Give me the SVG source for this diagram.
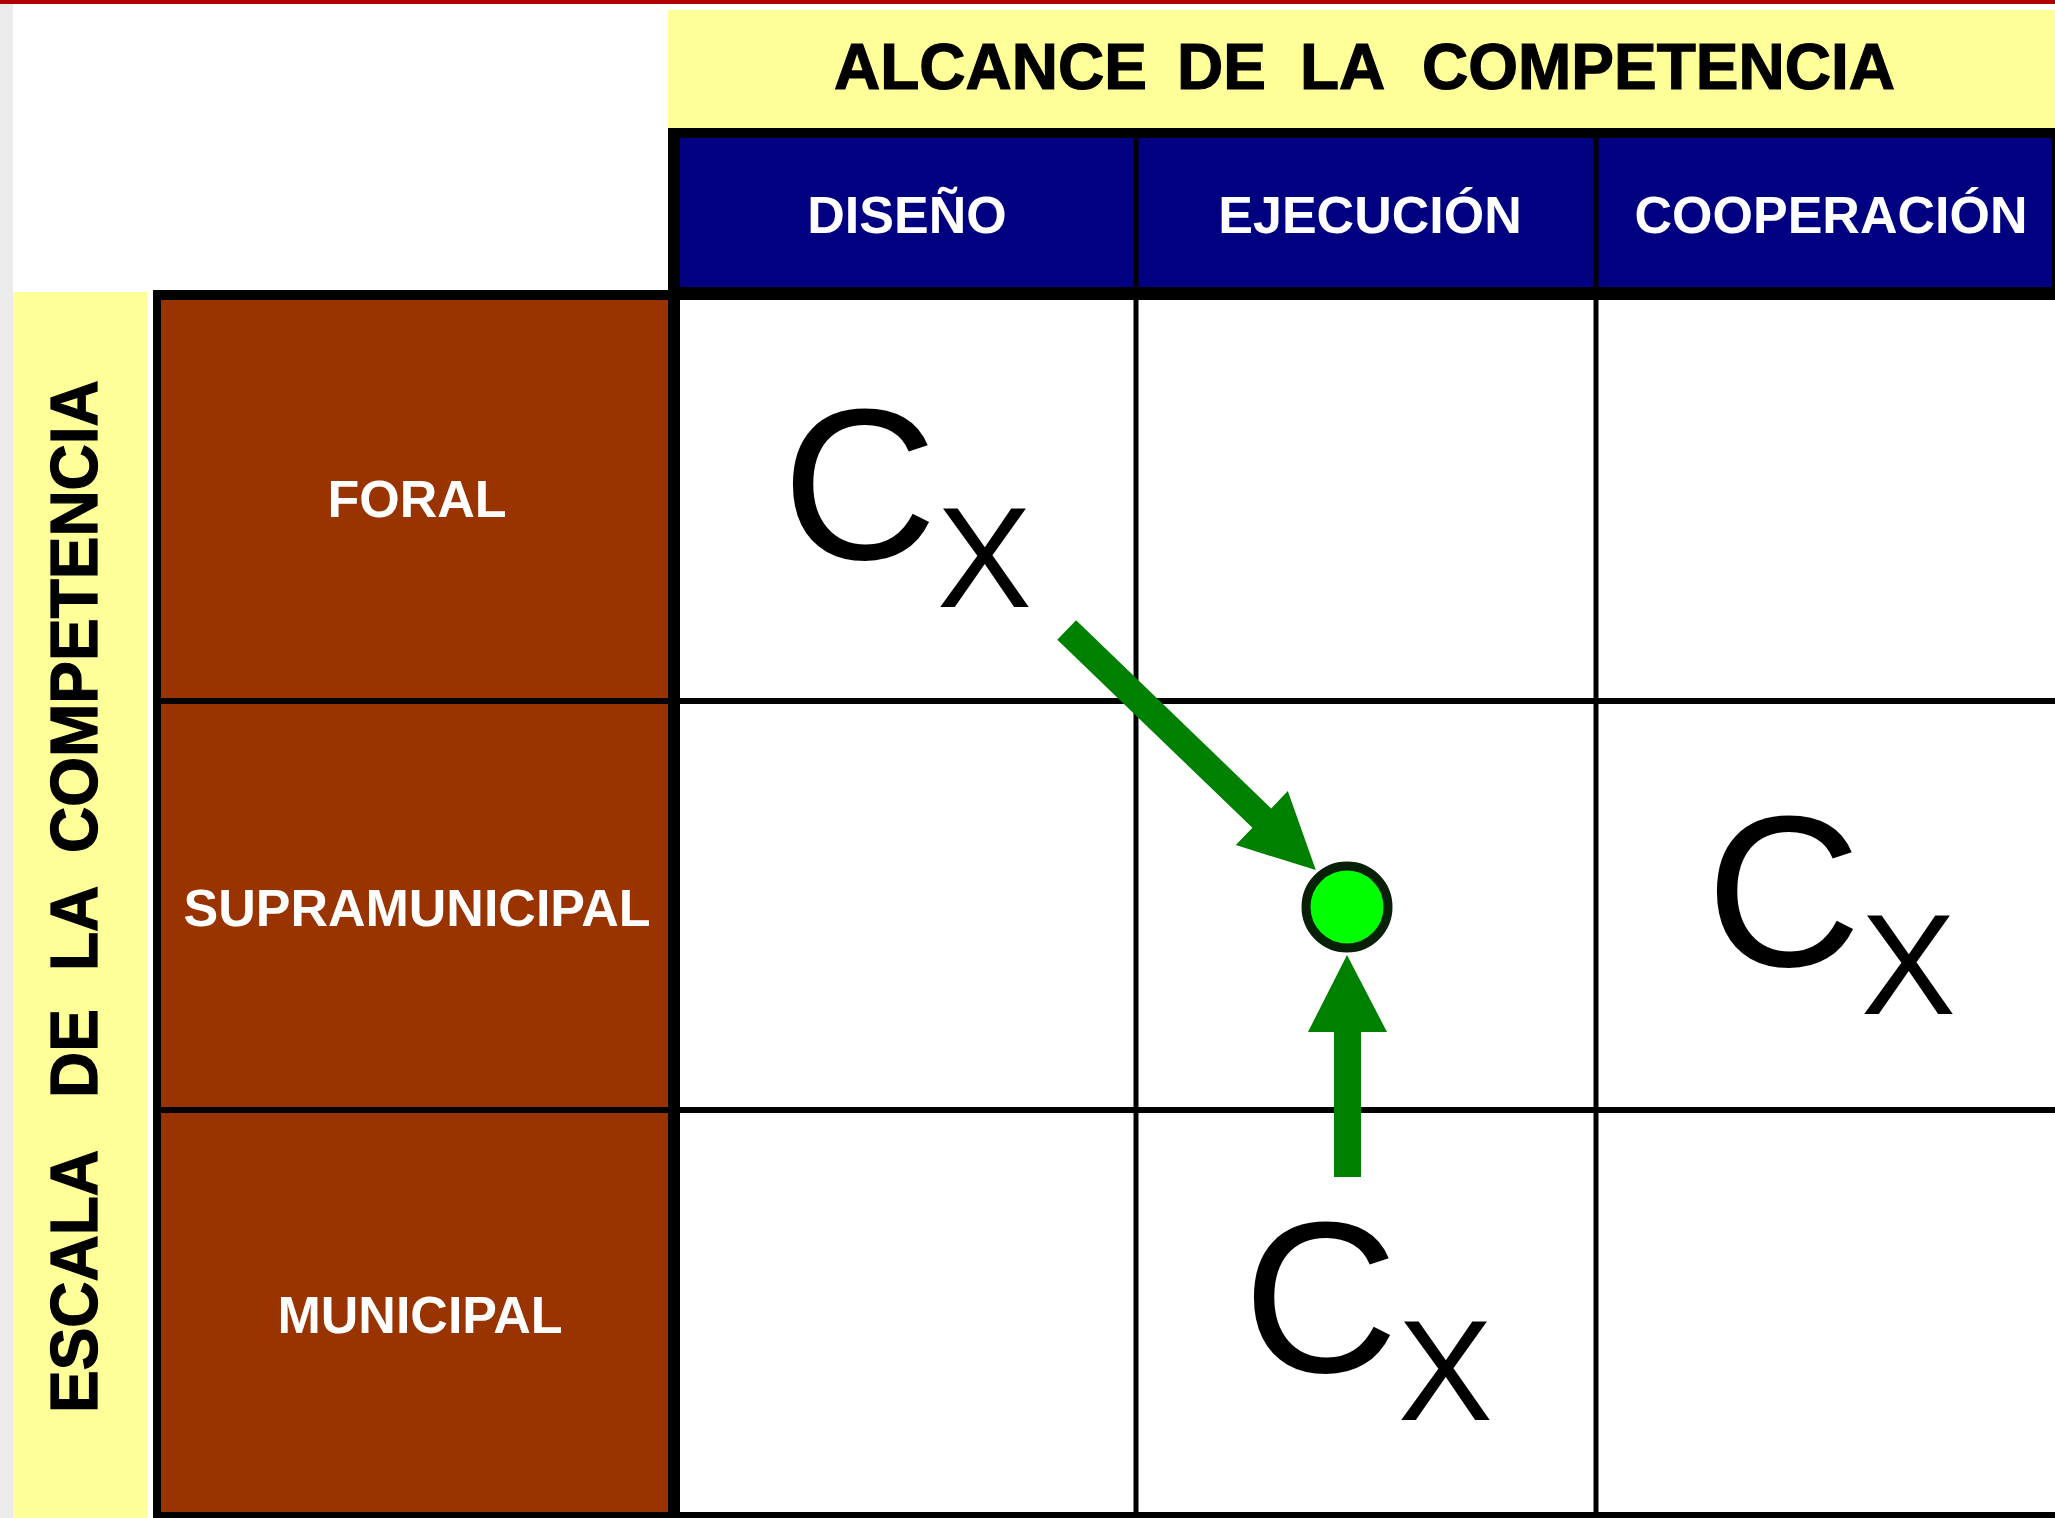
<svg xmlns="http://www.w3.org/2000/svg" width="2055" height="1518" viewBox="0 0 2055 1518">
<style>
.b{font-family:"Liberation Sans",Arial,Helvetica,sans-serif;font-weight:bold}
.hdr{font-size:52px;fill:#fff;text-anchor:middle}
.title{font-size:64px;fill:#000;stroke:#000;stroke-width:1.2px}
.cx{font-family:"Liberation Sans",Arial,Helvetica,sans-serif;fill:#000}
.k{fill:#000}
.yel{fill:#ffff99}
.brown{fill:#993300}
.navy{fill:#000080}
.arrow{fill:#008000}
</style>
<rect width="2055" height="1518" fill="#fff"/>
<rect x="0" y="0" width="13" height="1518" fill="#ebebeb"/>
<rect x="0" y="0" width="2055" height="4" fill="#b00000"/>

<g id="title">
<rect class="yel" x="668" y="10" width="1387" height="118"/>
<text class="b title" y="89"><tspan x="834">ALCANCE </tspan><tspan x="1177">DE </tspan><tspan x="1300">LA </tspan><tspan x="1422">COMPETENCIA</tspan></text>
</g>

<g id="axis-escala">
<rect class="yel" x="13" y="292" width="134" height="1226"/>
<text class="b title" transform="translate(97,1408) rotate(-90) scale(1,1.05)"><tspan x="-5">ESCALA </tspan><tspan x="310">DE </tspan><tspan x="437">LA </tspan><tspan x="555">COMPETENCIA</tspan></text>
</g>

<g id="grid">
<rect class="navy" x="680" y="138" width="1375" height="149"/>
<rect class="brown" x="157" y="295" width="516" height="1219"/>
<rect class="k" x="668" y="128" width="1387" height="10"/>
<rect class="k" x="668" y="128" width="12" height="1390"/>
<rect class="k" x="668" y="287" width="1387" height="13"/>
<rect class="k" x="153" y="290" width="520" height="10"/>
<rect class="k" x="153" y="290" width="8" height="1228"/>
<rect class="k" x="153" y="698" width="1902" height="6"/>
<rect class="k" x="153" y="1107" width="1902" height="6"/>
<rect class="k" x="153" y="1512" width="1902" height="6"/>
<rect class="k" x="1133.5" y="128" width="5" height="1390"/>
<rect class="k" x="1593.5" y="128" width="5" height="1390"/>
<rect class="k" x="2052" y="128" width="3" height="172"/>
</g>

<g id="col-diseno"><text class="b hdr" x="907" y="233">DISEÑO</text></g>
<g id="col-ejecucion"><text class="b hdr" x="1370" y="233">EJECUCIÓN</text></g>
<g id="col-cooperacion"><text class="b hdr" x="1831" y="233">COOPERACIÓN</text></g>

<g id="row-foral"><text class="b hdr" x="417" y="517">FORAL</text></g>
<g id="row-supramunicipal"><text class="b hdr" x="417" y="926">SUPRAMUNICIPAL</text></g>
<g id="row-municipal"><text class="b hdr" x="420" y="1333">MUNICIPAL</text></g>

<g id="cx-1"><text class="cx" x="782" y="559" font-size="215">C</text><text class="cx" x="937" y="607" font-size="142">X</text></g>
<g id="cx-2" transform="translate(924,407)"><text class="cx" x="782" y="559" font-size="215">C</text><text class="cx" x="937" y="607" font-size="142">X</text></g>
<g id="cx-3" transform="translate(461,813)"><text class="cx" x="782" y="559" font-size="215">C</text><text class="cx" x="937" y="607" font-size="142">X</text></g>

<g id="connectors">
<polygon class="arrow" points="1076.1,620.3 1271.2,808.4 1287.8,791.1 1315.8,870.1 1235.8,845.1 1252.4,827.8 1057.3,639.7"/>
<polygon class="arrow" points="1334,1177 1334,1032 1308,1032 1347,955 1387,1032 1361,1032 1361,1177"/>
</g>

<g id="node-point"><circle cx="1347" cy="907" r="41" fill="#00ff00" stroke="#082008" stroke-width="9"/></g>
</svg>
